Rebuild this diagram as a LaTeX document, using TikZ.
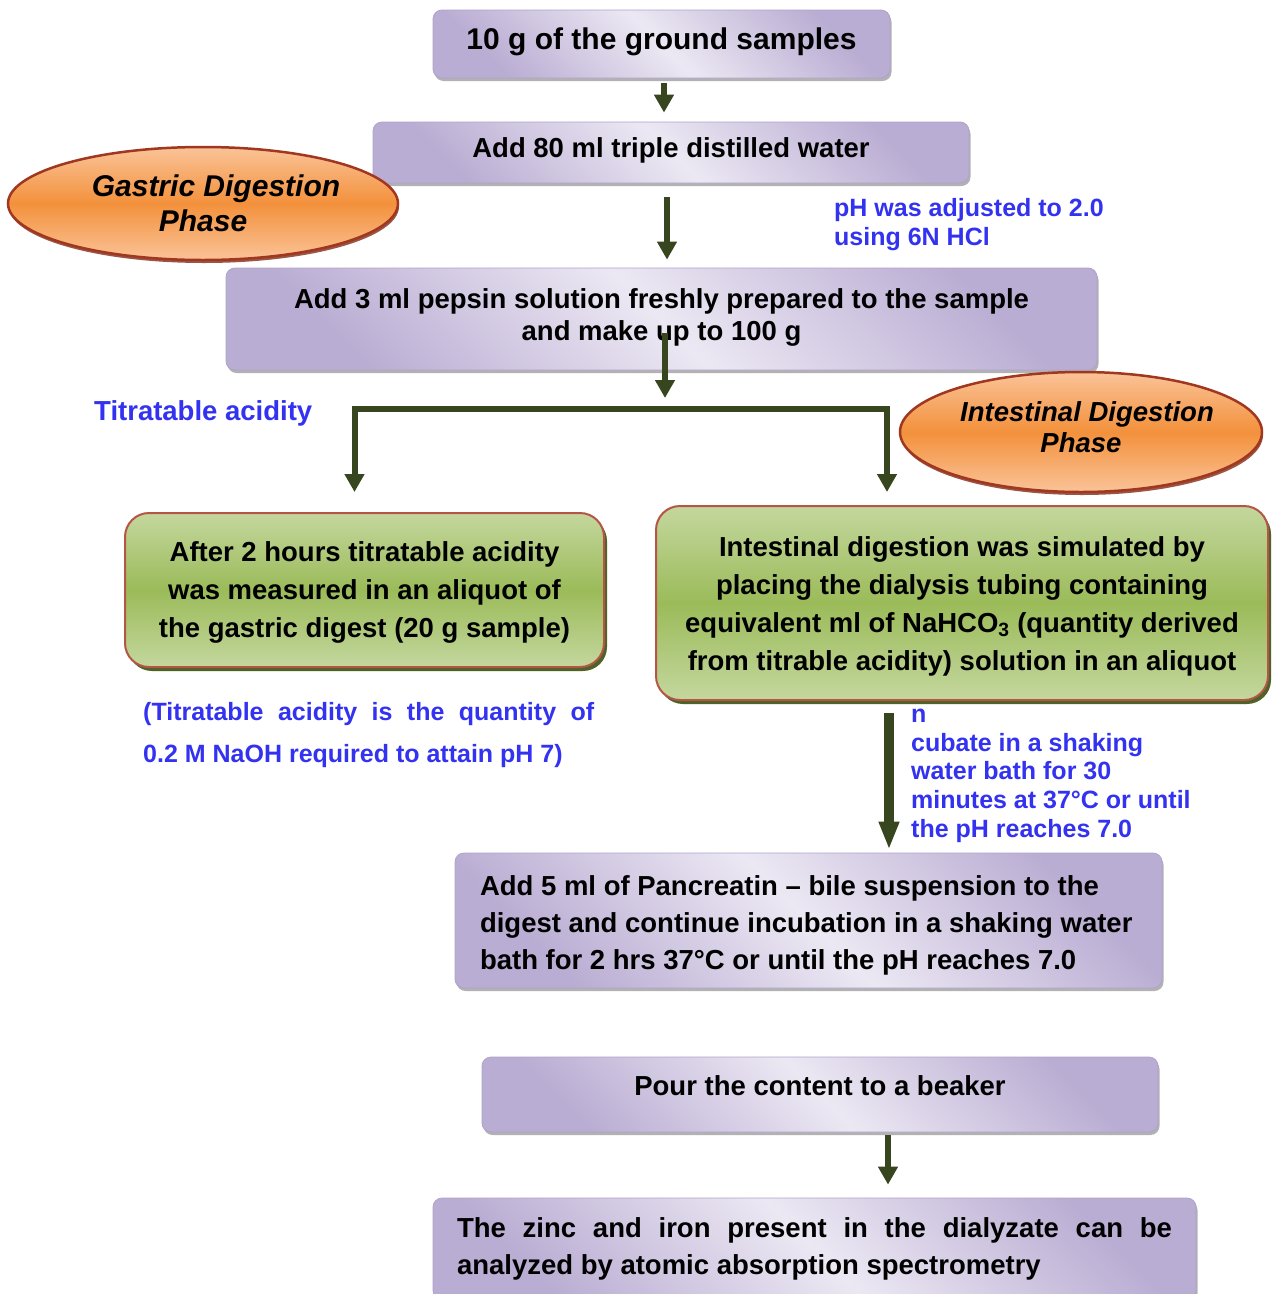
\documentclass[tikz,border=0pt]{standalone}
\usepackage{fontspec}
\setmainfont{Liberation Sans}
\usetikzlibrary{shapes.geometric,shadows,arrows.meta,calc}
\definecolor{pdark}{RGB}{186,173,211}
\definecolor{plight}{RGB}{236,232,243}
\definecolor{pdraw}{RGB}{176,162,202}
\definecolor{glight}{RGB}{196,215,158}
\definecolor{gmid}{RGB}{155,187,89}
\definecolor{gborder}{RGB}{180,85,70}
\definecolor{gshadow}{RGB}{79,98,40}
\definecolor{elight}{RGB}{250,195,152}
\definecolor{emid}{RGB}{243,145,60}
\definecolor{eborder}{RGB}{160,55,30}
\definecolor{arrcol}{RGB}{55,70,30}
\definecolor{notecol}{RGB}{50,50,240}
\newcommand\mydep[1]{\rule[-#1]{0pt}{0pt}}
\newcommand\myhgt[1]{\rule{0pt}{#1}}
\begin{document}
\begin{tikzpicture}[x=1pt,y=-1pt,
  pbox/.style={rectangle, rounded corners=9pt, draw=pdraw, line width=0.8pt,
    top color=pdark, bottom color=pdark, middle color=plight, shading angle=-45,
    drop shadow={shadow xshift=1.5pt, shadow yshift=-3pt, fill=black, opacity=0.3},
    font=\fontsize{27.5}{37}\selectfont\bfseries, inner sep=0pt},
  gbox/.style={rectangle, rounded corners=24pt, draw=gborder, line width=2pt,
    top color=glight, bottom color=glight, middle color=gmid,
    drop shadow={shadow xshift=3pt, shadow yshift=-4pt, fill=gshadow, opacity=1},
    font=\fontsize{27.5}{38}\selectfont\bfseries, align=center, inner sep=0pt},
  phase/.style={ellipse, draw=eborder, line width=2.5pt,
    top color=elight, bottom color=elight, middle color=emid,
    drop shadow={shadow xshift=1pt, shadow yshift=-3pt, fill=eborder!80!black, opacity=0.8},
    align=center, inner sep=0pt},
  arr/.style={draw=arrcol, line width=6pt, -{Triangle[width=19pt,length=18pt]}},
  bigarr/.style={draw=arrcol, line width=10pt, -{Triangle[width=19pt,length=28pt]}},
  note/.style={text=notecol, font=\fontsize{25}{29}\selectfont\bfseries, inner sep=0pt, align=left}
]
\useasboundingbox (0,0) rectangle (1275,1294);
\fill[white] (0,0) rectangle (1275,1294);

% purple boxes
\node[pbox, minimum width=457pt, minimum height=68pt, font=\fontsize{30}{36}\selectfont\bfseries] (b1) at (661.5,44) {10 g of the ground samples\mydep{11.6pt}};
\node[pbox, minimum width=596pt, minimum height=61pt] (b2) at (671,152.5) {Add 80 ml triple distilled water\mydep{10.8pt}};
\node[pbox, align=center, minimum width=871pt, minimum height=102pt, font=\fontsize{27.5}{32}\selectfont\bfseries] (b3) at (661.5,319) {Add 3 ml pepsin solution freshly prepared to the sample\\and make up to 100 g\mydep{9.8pt}};

% phase ellipses
\node[phase, minimum width=390pt, minimum height=113pt, font=\fontsize{30}{35}\selectfont\bfseries\itshape] (gastric) at (203,203.5) {\makebox[200pt]{\hspace*{26pt}Gastric Digestion}\\Phase};
\node[phase, minimum width=362pt, minimum height=120pt, font=\fontsize{27.5}{31}\selectfont\bfseries\itshape] (intest) at (1081,432) {\makebox[200pt]{\hspace*{12pt}Intestinal Digestion}\\Phase\mydep{10.8pt}};

% green boxes
\node[gbox, minimum width=479pt, minimum height=154pt] (g1) at (364.5,590) {\myhgt{25.8pt}After 2 hours titratable acidity\\was measured in an aliquot of\\the gastric digest (20 g sample)};
\node[gbox, minimum width=612pt, minimum height=194pt] (g2) at (962,603) {\myhgt{25.8pt}Intestinal digestion was simulated by\\placing the dialysis tubing containing\\equivalent ml of NaHCO\textsubscript{3} (quantity derived\\from titrable acidity) solution in an aliquot};

% lower purple boxes
\node[pbox, minimum width=707pt, minimum height=135pt, text width=657pt, inner xsep=25pt, align=left] (b4) at (808.5,920.5) {\spaceskip=0pt\xspaceskip=0pt\relax\mbox{\myhgt{28.8pt}Add 5 ml of Pancreatin – bile suspension to the}\\\mbox{digest and continue incubation in a shaking water}\\\mbox{bath for 2 hrs 37°C or until the pH reaches 7.0}};
\node[pbox, minimum width=676pt, minimum height=75pt] (b5) at (820,1094.5) {Pour the content to a beaker\mydep{18.8pt}};
\node[pbox, minimum width=763pt, minimum height=101pt, text width=715pt, inner xsep=24pt, align=left] (b6) at (814.5,1248.5) {\spaceskip=0pt\xspaceskip=0pt\relax\makebox[715pt][s]{The zinc and iron present in the dialyzate can be}\\analyzed by atomic absorption spectrometry};

% blue notes
\node[note, anchor=north west] (phnote) at (834,198) {pH was adjusted to 2.0\\using 6N HCl};
\node[note, anchor=base west, font=\fontsize{27.5}{33}\selectfont\bfseries] (titr) at (94,420) {Titratable acidity};
\node[note, anchor=north west, font=\fontsize{25}{42.5}\selectfont\bfseries] (tnote) at (143,702) {\makebox[451pt][s]{(Titratable acidity is the quantity of}\\0.2 M NaOH required to attain pH 7)};
\node[note, anchor=north west, font=\fontsize{25}{28.6}\selectfont\bfseries] (incnote) at (911,709) {n\\cubate in a shaking\\water bath for 30\\minutes at 37°C or until\\the pH reaches 7.0};

% connectors
\coordinate (split) at (665,409);
\coordinate (a1) at ([xshift=2.5pt]b1.south);
\coordinate (a2) at ([xshift=-4pt]b2.south);
\coordinate (a4) at ([xshift=-73pt]g2.south);
\coordinate (a5) at ([xshift=68pt]b5.south);
\draw[arr, shorten <=5pt, shorten >=9pt] (a1) -- (a1 |- b2.north);
\draw[arr, shorten <=14pt, shorten >=8pt] (a2) -- (a2 |- b3.north);
\draw[arr, shorten >=11pt] ([xshift=3.5pt,yshift=-14pt]b3.center) -- (split);
\draw[arr, shorten >=20pt] (split) -| ([xshift=-10pt]g1.north);
\draw[arr, shorten >=13pt] (split) -| ([xshift=-75pt]g2.north);
\draw[bigarr, shorten <=12pt, shorten >=3pt] (a4) -- (a4 |- b4.north);
\draw[arr, shorten <=3pt, shorten >=13pt] (a5) -- (a5 |- b6.north);
\end{tikzpicture}
\end{document}
